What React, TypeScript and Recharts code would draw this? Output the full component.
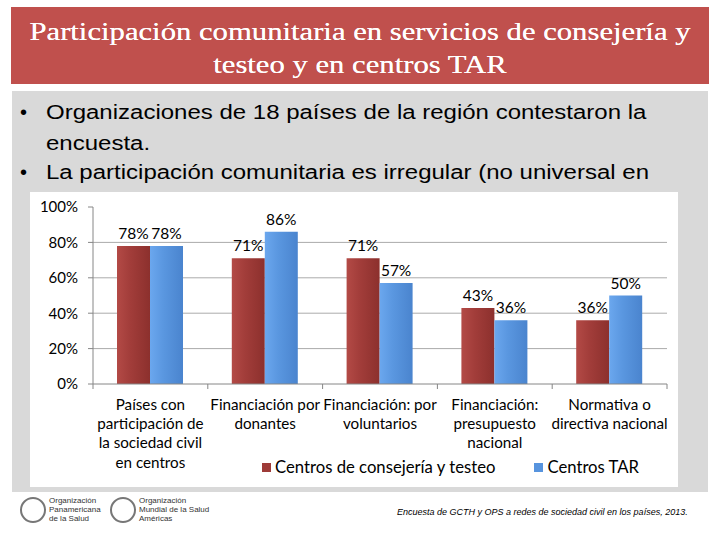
import React from 'react';
import { BarChart, Bar, XAxis, YAxis, CartesianGrid, Legend, LabelList } from 'recharts';

const categories = [
  'Países con\nparticipación de\nla sociedad civil\nen centros',
  'Financiación por\ndonantes',
  'Financiación: por\nvoluntarios',
  'Financiación:\npresupuesto\nnacional',
  'Normativa o\ndirectiva nacional',
];
const consejeria = [78, 71, 71, 43, 36];
const tar = [78, 86, 57, 36, 50];
const yTicks = [0, 20, 40, 60, 80, 100];
const gridValues = [20, 40, 60, 80];

const seriesNames = ['Centros de consejería y testeo', 'Centros TAR'];
const seriesColors = ['#9E3B38', '#5794DE'];

const data = categories.map((c, i) => ({ name: c, consejeria: consejeria[i], tar: tar[i] }));

const FONT = 'Lato, "Liberation Sans", sans-serif';

const CategoryTick = (props: any) => {
  const { x, y, payload, index, visibleTicksCount } = props;
  const lines = String(payload.value).split('\n');
  const off = payload.offset || 0;
  return (
    <g>
      <line x1={x - off} x2={x - off} y1={y} y2={y + 5} stroke="#868686" />
      {index === visibleTicksCount - 1 && (
        <line x1={x + off} x2={x + off} y1={y} y2={y + 5} stroke="#868686" />
      )}
      <text x={x} y={y + 26} textAnchor="middle" fontSize={15.2} fontFamily={FONT} fill="#000">
        {lines.map((l, i) => (
          <tspan key={i} x={x} dy={i === 0 ? 0 : 19.2}>
            {l}
          </tspan>
        ))}
      </text>
    </g>
  );
};

const LegendContent = () => (
  <div style={{ display: 'flex', alignItems: 'center', fontFamily: FONT, fontSize: 16.7, color: '#000', whiteSpace: 'nowrap' }}>
    {seriesNames.map((n, i) => (
      <span key={n} style={{ display: 'flex', alignItems: 'center', marginRight: i === 0 ? 39 : 0 }}>
        <span style={{ width: 9, height: 9, background: seriesColors[i], display: 'inline-block', marginRight: 4 }} />
        {n}
      </span>
    ))}
  </div>
);

const OrgLogo = ({ x, title }: { x: number; title: string[] }) => (
  <div style={{ position: 'absolute', left: x, top: 496, display: 'flex', alignItems: 'center' }}>
    <div style={{ width: 26, height: 26, borderRadius: 13, border: '2px solid #777', boxSizing: 'border-box' }} />
    <div style={{ fontFamily: '"Liberation Sans Narrow", "Liberation Sans", sans-serif', fontSize: 8, lineHeight: '9px', color: '#333', marginLeft: 3 }}>
      {title.map(t => (
        <div key={t}>{t}</div>
      ))}
    </div>
  </div>
);

export default function App() {
  return (
    <div style={{ position: 'absolute', left: 0, top: 0, width: 720, height: 540, background: '#fff', overflow: 'hidden' }}>
      <div
        style={{
          position: 'absolute',
          left: 11,
          top: 7,
          width: 698,
          height: 77,
          background: '#C0504D',
        }}
      />
      <div
        style={{
          position: 'absolute',
          left: 11,
          top: 7,
          width: 698,
          color: '#fff',
          fontFamily: '"Liberation Serif", serif',
          fontSize: 26,
          lineHeight: '33px',
          textAlign: 'center',
          paddingTop: 8,
          boxSizing: 'border-box',
          transform: 'scaleX(1.18)',
          transformOrigin: '50% 50%',
          textShadow: '0 0 0.6px #fff',
        }}
      >
        Participación comunitaria en servicios de consejería y
        <br />
        testeo y en centros TAR
      </div>

      <div style={{ position: 'absolute', left: 12, top: 91, width: 696, height: 401, background: '#D9D9D9' }} />

      {[
        { y: 112, bullet: true, text: 'Organizaciones de 18 países de la región contestaron la' },
        { y: 143, bullet: false, text: 'encuesta.' },
        { y: 172, bullet: true, text: 'La participación comunitaria es irregular (no universal en' },
      ].map(l => (
        <div key={l.text}>
          {l.bullet && (
            <div style={{ position: 'absolute', left: 20, top: l.y - 12, lineHeight: '24px', fontFamily: '"Liberation Sans", Arial, sans-serif', fontSize: 20 }}>
              •
            </div>
          )}
          <div
            style={{
              position: 'absolute',
              left: 46,
              top: l.y - 12,
              height: 24,
              lineHeight: '24px',
              fontFamily: '"Liberation Sans", Arial, sans-serif',
              fontSize: 20,
              color: '#000',
              whiteSpace: 'nowrap',
              transform: 'scaleX(1.2)',
              transformOrigin: '0 50%',
            }}
          >
            {l.text}
          </div>
        </div>
      ))}

      <div style={{ position: 'absolute', left: 30, top: 192, width: 648, height: 295, background: '#fff' }}>
        <BarChart
          width={648}
          height={295}
          data={data}
          margin={{ top: 15, right: 11, bottom: 0, left: 0 }}
          barGap={0}
          barSize={33}
        >
          <defs>
            <linearGradient id="gRed" x1="0" y1="0" x2="1" y2="0">
              <stop offset="0%" stopColor="#B34A46" />
              <stop offset="40%" stopColor="#A23D3A" />
              <stop offset="100%" stopColor="#8C302D" />
            </linearGradient>
            <linearGradient id="gBlue" x1="0" y1="0" x2="1" y2="0">
              <stop offset="0%" stopColor="#6BA7EE" />
              <stop offset="40%" stopColor="#5A97E0" />
              <stop offset="100%" stopColor="#4A84CE" />
            </linearGradient>
          </defs>
          <CartesianGrid vertical={false} horizontalValues={gridValues} stroke="#ABABAB" />
          <XAxis
            dataKey="name"
            height={103}
            interval={0}
            tickLine={false}
            tickSize={0}
            tickMargin={0}
            axisLine={{ stroke: '#868686' }}
            tick={<CategoryTick />}
          />
          <YAxis
            domain={[0, 100]}
            ticks={yTicks}
            width={63}
            interval={0}
            tickSize={5}
            tickMargin={10}
            tickFormatter={(v: number) => `${v}%`}
            axisLine={{ stroke: '#868686' }}
            tickLine={{ stroke: '#868686' }}
            tick={{ fontSize: 15, fontFamily: FONT, fill: '#000' }}
          />
          <Legend
            verticalAlign="middle"
            align="center"
            content={<LegendContent />}
            wrapperStyle={{ left: 232, top: 265, width: 'auto' }}
          />
          <Bar dataKey="consejeria" name={seriesNames[0]} fill="url(#gRed)" isAnimationActive={false}>
            <LabelList dataKey="consejeria" position="top" offset={7} formatter={(v: any) => `${v}%`} style={{ fontSize: 15.5, fontFamily: FONT, fill: '#000' }} />
          </Bar>
          <Bar dataKey="tar" name={seriesNames[1]} fill="url(#gBlue)" isAnimationActive={false}>
            <LabelList dataKey="tar" position="top" offset={7} formatter={(v: any) => `${v}%`} style={{ fontSize: 15.5, fontFamily: FONT, fill: '#000' }} />
          </Bar>
        </BarChart>
      </div>

      <OrgLogo x={20} title={['Organización', 'Panamericana', 'de la Salud']} />
      <OrgLogo x={110} title={['Organización', 'Mundial de la Salud', 'Américas']} />

      <div
        style={{
          position: 'absolute',
          left: 397,
          top: 507,
          fontFamily: '"Liberation Sans", Arial, sans-serif',
          fontStyle: 'italic',
          fontSize: 9,
          color: '#000',
          whiteSpace: 'nowrap',
        }}
      >
        Encuesta de GCTH y OPS a redes de sociedad civil en los países, 2013.
      </div>
    </div>
  );
}
